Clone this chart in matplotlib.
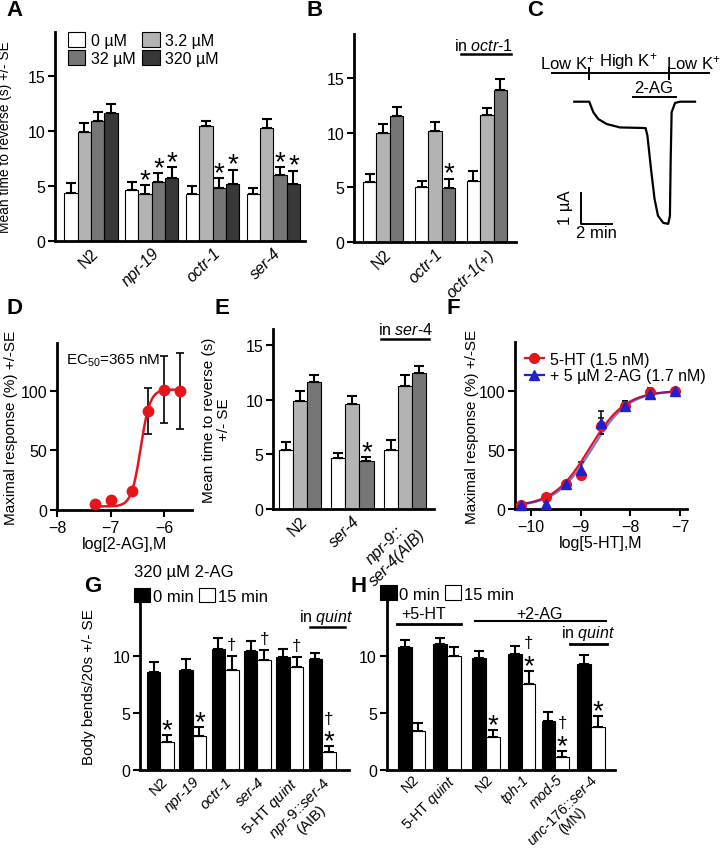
import numpy as np
import matplotlib
matplotlib.use("Agg")
from matplotlib import pyplot as plt
from matplotlib.lines import Line2D

plt.rcParams["font.family"] = ["Liberation Sans", "DejaVu Sans"]
plt.rcParams["mathtext.fontset"] = "custom"
plt.rcParams["mathtext.rm"] = "Liberation Sans"
plt.rcParams["mathtext.it"] = "Liberation Sans:italic"
plt.rcParams["font.size"] = 11.5
plt.rcParams["axes.labelsize"] = 10.5
plt.rcParams["axes.linewidth"] = 2

W, H = 722, 853

# ---------------- data ----------------
# A: time to reverse vs 2-AG dose
a_groups = ["N2", "npr-19", "octr-1", "ser-4"]
a_doses = ["0 µM", "3.2 µM", "32 µM", "320 µM"]
a_mean = np.array([
    [4.4, 9.9, 10.9, 11.6],
    [4.6, 4.3, 5.4, 5.75],
    [4.3, 10.5, 4.8, 5.2],
    [4.3, 10.3, 6.0, 5.2],
])
a_err = np.array([
    [0.9, 0.8, 0.8, 0.9],
    [0.8, 0.8, 0.8, 0.95],
    [0.7, 0.45, 0.9, 1.3],
    [0.5, 0.8, 0.7, 1.2],
])
a_star = [(1, 1), (1, 2), (1, 3), (2, 2), (2, 3), (3, 2), (3, 3)]

# B: octr-1 rescue
b_groups = ["N2", "octr-1", "octr-1(+)"]
b_mean = np.array([[5.5, 10.0, 11.5], [5.0, 10.1, 4.9], [5.6, 11.6, 13.9]])
b_err = np.array([[0.7, 0.8, 0.8], [0.6, 0.9, 0.9], [0.9, 0.6, 1.0]])
b_star = [(1, 2)]

# C: oocyte current trace (time in min, current in µA)
c_t = [0.0, 0.97, 1.05, 1.23, 1.55, 2.09, 2.95, 4.60, 4.72, 4.95, 5.18, 5.40,
       5.74, 6.06, 6.17, 6.22, 6.28, 6.50, 6.82, 7.79]
c_i = [0.0, 0.0, -0.11, -0.34, -0.56, -0.72, -0.83, -0.85, -1.10, -2.17, -3.14,
       -3.68, -3.91, -3.94, -3.68, -1.85, -0.34, -0.04, 0.0, 0.0]
c_switch = [0.95, 6.1]

# D: 2-AG dose response
d_x = [-7.3, -7.0, -6.6, -6.3, -6.0, -5.7]
d_y = [5, 8, 16, 83, 101, 100]
d_err = [0, 0, 0, 19, 28, 32]
d_fit = dict(bottom=3, top=101, logec50=np.log10(365e-9), hill=5.0)

# E: ser-4 rescue
e_groups = ["N2", "ser-4", "npr-9::\nser-4(AIB)"]
e_mean = np.array([[5.4, 9.9, 11.6], [4.7, 9.6, 4.4], [5.4, 11.25, 12.5]])
e_err = np.array([[0.7, 0.9, 0.7], [0.4, 0.8, 0.4], [0.9, 1.0, 0.6]])
e_star = [(1, 2)]

# F: 5-HT dose response +/- 2-AG
f_x = [-10.2, -9.7, -9.3, -9.0, -8.6, -8.1, -7.6, -7.1]
f_red = [3, 10, 21, 29, 70, 87, 99, 100]
f_red_err = [2, 2, 3, 3, 7, 4, 3, 2]
f_blue = [3, 4, 21, 33, 73, 87, 97, 100]
f_blue_err = [2, 2, 3, 7, 10, 4, 3, 2]
f_fit_red = dict(bottom=2, top=100, logec50=np.log10(1.5e-9), hill=1.2)
f_fit_blue = dict(bottom=2, top=100, logec50=np.log10(1.7e-9), hill=1.2)

# G: body bends, 320 µM 2-AG
g_groups = ["N2", "npr-19", "octr-1", "ser-4", "5-HT quint", "npr-9::ser-4\n(AIB)"]
g_0 = [8.57, 8.8, 10.6, 10.4, 9.94, 9.74]
g_0_err = [0.88, 0.94, 1.0, 0.9, 0.66, 0.56]
g_15 = [2.41, 2.93, 8.77, 9.68, 9.06, 1.58]
g_15_err = [0.67, 0.8, 1.23, 0.87, 0.88, 0.48]
g_marks = {0: ["*"], 1: ["*"], 2: ["†"], 3: ["†"], 4: ["†"], 5: ["*", "†"]}

# H: body bends, 5-HT vs 2-AG
h_groups = ["N2", "5-HT quint", "N2", "tph-1", "mod-5", "unc-176::ser-4\n(MN)"]
h_pos = [0, 1, 2.1, 3.1, 4.05, 5.05]
h_0 = [10.76, 11.06, 9.82, 10.18, 4.25, 9.3]
h_0_err = [0.68, 0.52, 0.62, 0.67, 0.85, 0.8]
h_15 = [3.43, 10.03, 2.85, 7.54, 1.09, 3.73]
h_15_err = [0.67, 0.73, 0.64, 1.14, 0.58, 0.97]
h_marks = {2: ["*"], 3: ["*", "†"], 4: ["*", "†"], 5: ["*"]}

dose_colors = ["white", "#b3b3b3", "#767676", "#383838"]

fig = plt.figure(figsize=(W / 100, H / 100), dpi=100)


def px_axes(l, t, r, b):
    return fig.add_axes([l / W, 1 - b / H, (r - l) / W, (b - t) / H])


def style(ax, xticks=False):
    ax.spines["top"].set_visible(False)
    ax.spines["right"].set_visible(False)
    ax.tick_params(axis="y", direction="out", length=5, width=1.5, pad=2)
    if xticks:
        ax.tick_params(axis="x", direction="out", length=5, width=1.5, pad=2)
    else:
        ax.tick_params(axis="x", length=0, pad=3)


def mark(ax, x, y, s, dy):
    size = 20 if s == "*" else 12
    ax.annotate(s, (x, y), xytext=(0, dy), textcoords="offset points",
                ha="center", va="baseline", fontsize=size)


def stack_marks(ax, x, top, syms):
    # star sits on the error bar, dagger goes above it
    if syms == ["*"]:
        mark(ax, x, top, "*", -1.5)
    elif syms == ["†"]:
        mark(ax, x, top, "†", 5)
    else:
        mark(ax, x, top, "*", -1.5)
        mark(ax, x, top, "†", 17)


def label_fmt(name):
    # italicise gene names, leave plain words upright
    if name == "N2":
        return name, "normal"
    if name == "5-HT quint":
        return r"5-HT $\it{quint}$", "normal"
    if name == "npr-9::ser-4\n(AIB)":
        return "$\\it{npr}$-9::$\\it{ser}$-4\n(AIB)", "normal"
    if name == "unc-176::ser-4\n(MN)":
        return "$\\it{unc}$-176::$\\it{ser}$-4\n(MN)", "normal"
    return name, "italic"


def set_group_labels(ax, pos, names, size=11.5):
    ax.set_xticks(pos)
    labs = [label_fmt(n) for n in names]
    ax.set_xticklabels([l[0] for l in labs], rotation=45, ha="right",
                       rotation_mode="anchor", multialignment="center",
                       fontsize=size, linespacing=1.0)
    for t, l in zip(ax.get_xticklabels(), labs):
        t.set_fontstyle(l[1])


def underline_text(ax, x, y, text, x0, x1, yl, size=11.5):
    ax.text(x, y, text, transform=ax.transAxes, ha="center", va="baseline",
            fontsize=size)
    ax.plot([x0, x1], [yl, yl], transform=ax.transAxes, color="black",
            lw=1.8, clip_on=False)


def dose_bars(ax, mean, err, ncol, width, stars):
    n = mean.shape[0]
    x = np.arange(n)
    hs = []
    for j in range(ncol):
        xx = x + (j - (ncol - 1) / 2) * width
        h = ax.bar(xx, mean[:, j], width, color=dose_colors[j], edgecolor="black",
                   linewidth=0.8)
        ax.errorbar(xx, mean[:, j], yerr=[np.zeros(n), err[:, j]], fmt="none",
                    ecolor="black", elinewidth=1.5, capsize=3.5, capthick=1.5)
        hs.append(h)
    for g, j in stars:
        xx = g + (j - (ncol - 1) / 2) * width
        stack_marks(ax, xx, mean[g, j] + err[g, j], ["*"])
    return hs


# ---------------- A ----------------
axA = px_axes(55, 33, 305, 242)
hs = dose_bars(axA, a_mean, a_err, 4, 0.22, a_star)
axA.set_xlim(-0.59, 3.52)
axA.set_ylim(0, 19)
axA.set_yticks([0, 5, 10, 15])
set_group_labels(axA, np.arange(4), a_groups)
axA.set_ylabel("Mean time to reverse (s) +/- SE", fontsize=9.9)
axA.yaxis.set_label_coords(-0.17, 0.5)
style(axA)
axA.legend([hs[0], hs[2], hs[1], hs[3]],
           [a_doses[0], a_doses[2], a_doses[1], a_doses[3]], ncol=2,
           loc="upper left", bbox_to_anchor=(0.025, 1.03), frameon=False,
           handlelength=1.1, handleheight=1.1, handletextpad=0.35,
           columnspacing=0.4, labelspacing=0.12, borderaxespad=0, fontsize=11.5)

# ---------------- B ----------------
axB = px_axes(354, 35, 516, 243)
dose_bars(axB, b_mean, b_err, 3, 0.26, b_star)
axB.set_xlim(-0.56, 2.56)
axB.set_ylim(0, 19)
axB.set_yticks([0, 5, 10, 15])
set_group_labels(axB, np.arange(3), b_groups)
style(axB)
underline_text(axB, 0.8, 0.925, r"in $\it{octr}$-1", 0.66, 0.97, 0.905)

# ---------------- C ----------------
axC = px_axes(544.8, 53.1, 716.9, 245.3)
axC.plot(c_t, c_i, color="black", lw=1.6, solid_joinstyle="round")
axC.set_xlim(-1.9, 9.2)
axC.set_ylim(-4.6, 1.6)
axC.axis("off")
axC.plot([-1.46, 8.71], [0.92, 0.92], color="black", lw=1.4)
for s in c_switch:
    axC.plot([s, s], [0.72, 1.1], color="black", lw=1.4)
for xx, txt in [(-0.45, "Low K$^{+}$"), (3.46, "High K$^{+}$"), (7.65, "Low K$^{+}$")]:
    axC.text(xx, 0.98, txt, ha="center", va="bottom", fontsize=12)
axC.text(5.14, 0.3, "2-AG", ha="center", va="baseline", fontsize=12)
axC.plot([3.8, 6.55], [0.16, 0.16], color="black", lw=1.4)
axC.plot([0.45, 0.45, 2.45], [-2.93, -3.93, -3.93], color="black", lw=1.4)
axC.text(-0.05, -3.4, "1 µA", rotation=90, ha="right", va="center", fontsize=12)
axC.text(1.45, -3.98, "2 min", ha="center", va="top", fontsize=12)


def hill(x, p):
    return p["bottom"] + (p["top"] - p["bottom"]) / (1 + 10 ** ((p["logec50"] - x) * p["hill"]))


# ---------------- D ----------------
axD = px_axes(57, 344, 192, 511)
xs = np.linspace(d_x[0] - 0.05, d_x[-1], 200)
axD.plot(xs, hill(xs, d_fit), color="#e8141c", lw=1.8, zorder=2)
axD.errorbar(d_x, d_y, yerr=d_err, fmt="none", ecolor="black", elinewidth=1.2,
             capsize=3, capthick=1.2, zorder=1)
axD.plot(d_x, d_y, "o", color="#e8141c", ms=7.5, zorder=3, clip_on=False)
axD.set_xlim(-8, -5.48)
axD.set_ylim(0, 140)
axD.set_xticks([-8, -7, -6])
axD.set_yticks([0, 50, 100])
axD.set_xlabel("log[2-AG],M", labelpad=1, fontsize=11.5)
axD.set_ylabel("Maximal response (%) +/-SE", fontsize=11)
axD.yaxis.set_label_coords(-0.29, 0.5)
style(axD, xticks=True)
axD.text(0.07, 0.9, "EC$_{50}$=365 nM", transform=axD.transAxes, ha="left",
         va="center", fontsize=11)

# ---------------- E ----------------
axE = px_axes(273, 330, 434, 510)
dose_bars(axE, e_mean, e_err, 3, 0.267, e_star)
axE.set_xlim(-0.51, 2.55)
axE.set_ylim(0, 16.5)
axE.set_yticks([0, 5, 10, 15])
axE.set_xticks(np.arange(3))
axE.set_xticklabels(e_groups, rotation=45, ha="right", rotation_mode="anchor",
                    multialignment="center")
for t in axE.get_xticklabels()[1:]:
    t.set_fontstyle("italic")
axE.set_ylabel("Mean time to reverse (s)\n+/- SE", linespacing=1.1, fontsize=11)
axE.yaxis.set_label_coords(-0.26, 0.5)
style(axE)
underline_text(axE, 0.82, 0.97, r"in $\it{ser}$-4", 0.67, 0.97, 0.945)

# ---------------- F ----------------
axF = px_axes(515, 343, 687, 510)
xs = np.linspace(f_x[0], f_x[-1], 200)
axF.errorbar(f_x, f_red, yerr=f_red_err, fmt="none", ecolor="black",
             elinewidth=1.1, capsize=2.5, capthick=1.1, zorder=1)
axF.errorbar(f_x, f_blue, yerr=f_blue_err, fmt="none", ecolor="black",
             elinewidth=1.1, capsize=2.5, capthick=1.1, zorder=1)
axF.plot(xs, hill(xs, f_fit_red), color="#e8141c", lw=1.6, zorder=2)
axF.plot(xs, hill(xs, f_fit_blue), color="#2020d0", lw=1.6, alpha=0.6, zorder=2)
axF.plot(f_x, f_red, "o", color="#e8141c", ms=7, zorder=3, clip_on=False)
axF.plot(f_x, f_blue, "^", color="#2020d0", ms=7, zorder=4, clip_on=False)
axF.set_xlim(-10.32, -6.86)
axF.set_ylim(0, 141)
axF.set_xticks([-10, -9, -8, -7])
axF.set_yticks([0, 50, 100])
axF.set_xlabel("log[5-HT],M", labelpad=1, fontsize=11.5)
axF.set_ylabel("Maximal response (%) +/-SE", fontsize=11)
axF.yaxis.set_label_coords(-0.21, 0.5)
style(axF, xticks=True)
axF.legend([Line2D([], [], color="#e8141c", marker="o", ms=7, lw=1.6),
            Line2D([], [], color="#2020d0", marker="^", ms=7, lw=1.6)],
           ["5-HT (1.5 nM)", "+ 5 µM 2-AG (1.7 nM)"], loc="upper left",
           bbox_to_anchor=(0.0, 1.0), frameon=False, handlelength=1.2,
           handletextpad=0.4, labelspacing=0.1, borderaxespad=0.2, fontsize=11.5)


def time_bars(ax, pos, m0, e0, m15, e15, width, marks):
    pos = np.asarray(pos, dtype=float)
    n = len(pos)
    b0 = ax.bar(pos - width / 2, m0, width, color="black", edgecolor="black",
                linewidth=0.8)
    b15 = ax.bar(pos + width / 2, m15, width, color="white", edgecolor="black",
                 linewidth=0.8)
    ax.errorbar(pos - width / 2, m0, yerr=[np.zeros(n), e0], fmt="none",
                ecolor="black", elinewidth=1.5, capsize=3.5, capthick=1.5)
    ax.errorbar(pos + width / 2, m15, yerr=[np.zeros(n), e15], fmt="none",
                ecolor="black", elinewidth=1.5, capsize=3.5, capthick=1.5)
    for g, syms in marks.items():
        stack_marks(ax, pos[g] + width / 2, m15[g] + e15[g], syms)
    return b0, b15


# ---------------- G ----------------
axG = px_axes(140, 603, 349, 770.7)
b0, b15 = time_bars(axG, np.arange(6), g_0, g_0_err, g_15, g_15_err, 0.415, g_marks)
axG.set_xlim(-0.63, 5.83)
axG.set_ylim(0, 14.75)
axG.set_yticks([0, 5, 10])
set_group_labels(axG, np.arange(6), g_groups, size=10.8)
axG.set_ylabel("Body bends/20s +/- SE", fontsize=11)
axG.yaxis.set_label_coords(-0.21, 0.5)
style(axG)
axG.legend([b0, b15], ["0 min", "15 min"], ncol=2, loc="lower left",
           bbox_to_anchor=(-0.03, 0.99), frameon=False, handlelength=1.0,
           handleheight=1.0, handletextpad=0.15, columnspacing=0.3,
           borderaxespad=0, borderpad=0, fontsize=12,
           title="320 µM 2-AG", title_fontsize=12, alignment="left")
underline_text(axG, 0.89, 0.887, r"in $\it{quint}$", 0.814, 0.98, 0.851)

# ---------------- H ----------------
axH = px_axes(386.7, 600, 615, 770.7)
b0, b15 = time_bars(axH, h_pos, h_0, h_0_err, h_15, h_15_err, 0.39, h_marks)
axH.set_xlim(-0.70, 5.73)
axH.set_ylim(0, 15.0)
axH.set_yticks([0, 5, 10])
set_group_labels(axH, h_pos, h_groups, size=10.3)
axH.tick_params(axis="x", pad=2)
style(axH)
axH.tick_params(axis="x", pad=1.5)
axH.legend([b0, b15], ["0 min", "15 min"], ncol=2, loc="lower left",
           bbox_to_anchor=(-0.03, 0.985), frameon=False, handlelength=1.0,
           handleheight=1.0, handletextpad=0.15, columnspacing=0.3,
           borderaxespad=0, borderpad=0, fontsize=12)
axH.text(0.16, 0.889, "+5-HT", transform=axH.transAxes, ha="center",
         va="baseline", fontsize=11.5)
axH.plot([0.044, 0.325], [0.854, 0.854], transform=axH.transAxes, color="black",
         lw=2, clip_on=False)
axH.text(0.67, 0.889, "+2-AG", transform=axH.transAxes, ha="center",
         va="baseline", fontsize=11.5)
axH.plot([0.388, 0.962], [0.871, 0.871], transform=axH.transAxes, color="black",
         lw=1.5, clip_on=False)
axH.text(0.88, 0.777, r"in $\it{quint}$", transform=axH.transAxes, ha="center",
         va="baseline", fontsize=11.5)
axH.plot([0.805, 0.965], [0.737, 0.737], transform=axH.transAxes, color="black",
         lw=2, clip_on=False)

# ---------------- panel letters ----------------
for x, y, s in [(6, 10, "A"), (306, 10, "B"), (527, 10, "C"), (6, 308, "D"),
                (214, 308, "E"), (446, 308, "F"), (84, 587, "G"), (350, 587, "H")]:
    fig.text(x / W, 1 - y / H, s, fontsize=16, fontweight="bold", ha="left",
             va="center")

fig.savefig("out.png", dpi=100)
